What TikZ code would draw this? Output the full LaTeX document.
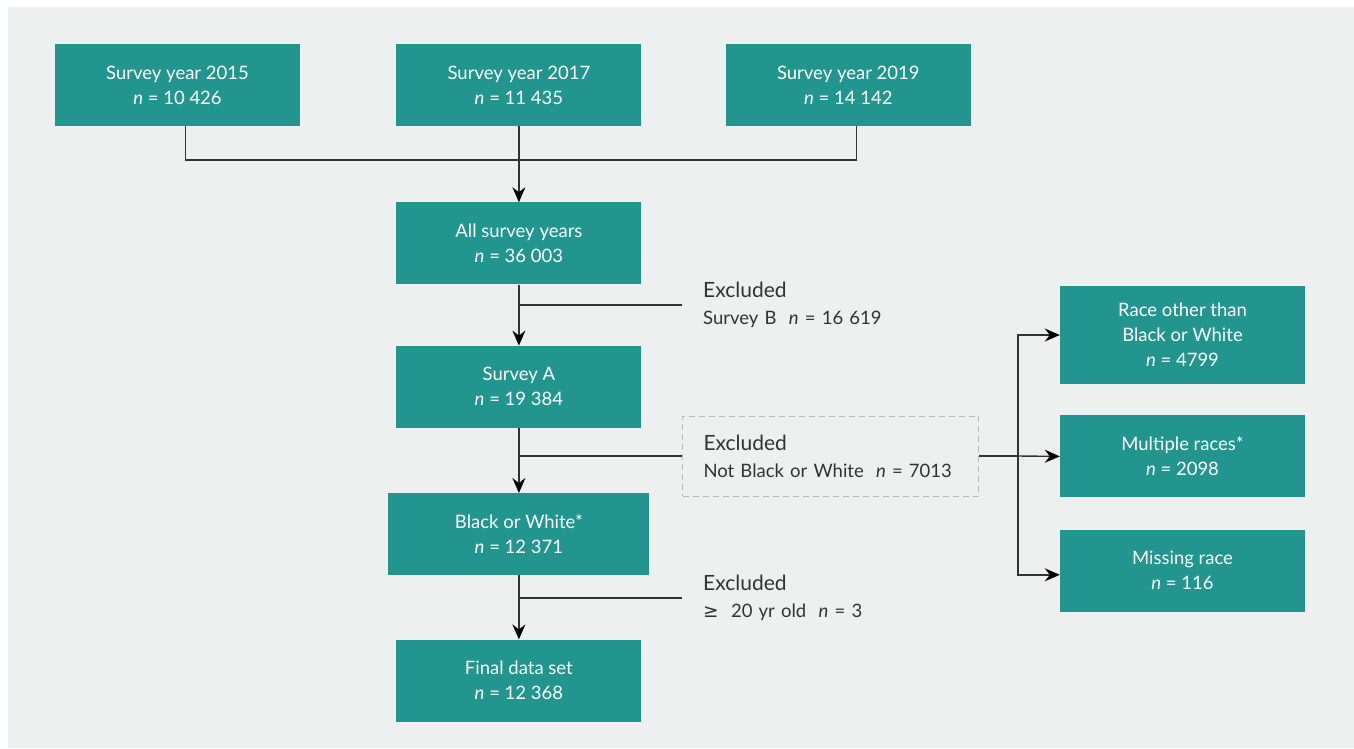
\documentclass[tikz,border=0pt]{standalone}
\usepackage{fontspec}
\setmainfont{Lato}
\newfontfamily\symfont{DejaVu Sans}
\usetikzlibrary{arrows.meta,positioning}
\definecolor{tealbox}{HTML}{23958F}
\definecolor{bggray}{HTML}{EEF0EF}
\definecolor{txtgray}{HTML}{333333}
\definecolor{dashgray}{HTML}{BBBBBB}
\tikzset{
  basic/.style  = {rectangle, fill=tealbox, text=white, align=center, inner sep=0pt,
                   font=\fontsize{18.5}{25}\selectfont},
  stage/.style  = {basic, minimum width=245pt, minimum height=82pt},
  wstage/.style = {basic, minimum width=261pt, minimum height=82pt},
  race/.style   = {basic, minimum width=245pt, minimum height=82pt},
  excl/.style   = {anchor=west, align=left, text=txtgray, text width=254pt,
                   inner xsep=21pt, inner ysep=0pt, minimum height=80pt,
                   font=\fontsize{18.5}{27}\selectfont},
  exclbox/.style = {excl, draw=dashgray, dash pattern=on 6pt off 4pt, line width=1pt},
  conn/.style   = {draw=txtgray, line width=1.4pt},
  flow/.style   = {conn, -{Stealth[length=15pt, width=13pt, inset=5pt, color=black]}}
}
\newcommand{\nn}{\textit{n}}
\newcommand{\exhead}{{\fontsize{21}{27}\selectfont Excluded}}

\begin{document}
\begin{tikzpicture}[x=1pt, y=-1pt]
\useasboundingbox (0,0) rectangle (1354,748);
\fill[white] (0,0) rectangle (1354,748);
\fill[bggray] (8,7) rectangle (1354,748);

% survey years, top row
\node[stage] (s15) at (177.5,85) {Survey year 2015\\ \nn{} = 10 426};
\node[stage, right=96pt of s15] (s17) {Survey year 2017\\ \nn{} = 11 435};
\node[stage, right=84pt of s17] (s19) {Survey year 2019\\ \nn{} = 14 142};

% main column
\node[stage, below=76pt of s17] (all) {All survey years\\ \nn{} = 36 003};
\node[stage, below=61pt of all] (surva) {Survey A\\ \nn{} = 19 384};
\node[wstage, below=65pt of surva] (bw) {Black or White*\\ \nn{} = 12 371};
\node[stage, below=64pt of bw] (final) {Final data set\\ \nn{} = 12 368};

% exclusions
\node[excl] (ex1) at (682,305) {\exhead\\ Survey B\ \ \nn{} = 16 619};
\node[exclbox] (ex2) at (682,456) {\exhead\\ Not Black or White\ \ \nn{} = 7013};
\node[excl] (ex3) at (682,598) {\exhead\\ {\symfont ≥}\ \ 20 yr old\ \ \nn{} = 3};

% race breakdown
\node[race, minimum height=98pt] (rother) at (1182.5,335) {Race other than\\ Black or White\\ \nn{} = 4799};
\node[race, below=31pt of rother] (rmult) {Multiple races*\\ \nn{} = 2098};
\node[race, below=32pt of rmult] (rmiss) {Missing race\\ \nn{} = 116};

% connectors
\coordinate (mrg) at (518.5,160);
\draw[conn] ([xshift=8pt]s15.south) |- (mrg) -| ([xshift=8pt]s19.south);
\draw[flow] (s17) -- (all);
\draw[flow] (all) -- (surva);
\draw[flow] (surva) -- (bw);
\draw[flow] (bw) -- (final);
\draw[conn] (all.south |- ex1.west) -- (ex1.west);
\draw[conn] (surva.south |- ex2.west) -- (ex2.west);
\draw[conn] (bw.south |- ex3.west) -- (ex3.west);

\coordinate (split) at (1018,456);
\draw[conn] (ex2.east) -- (split);
\draw[flow] (split) |- (rother.west);
\draw[flow] (split) -- (rmult.west);
\draw[flow] (split) |- ([yshift=-4pt]rmiss.west);
\end{tikzpicture}
\end{document}
